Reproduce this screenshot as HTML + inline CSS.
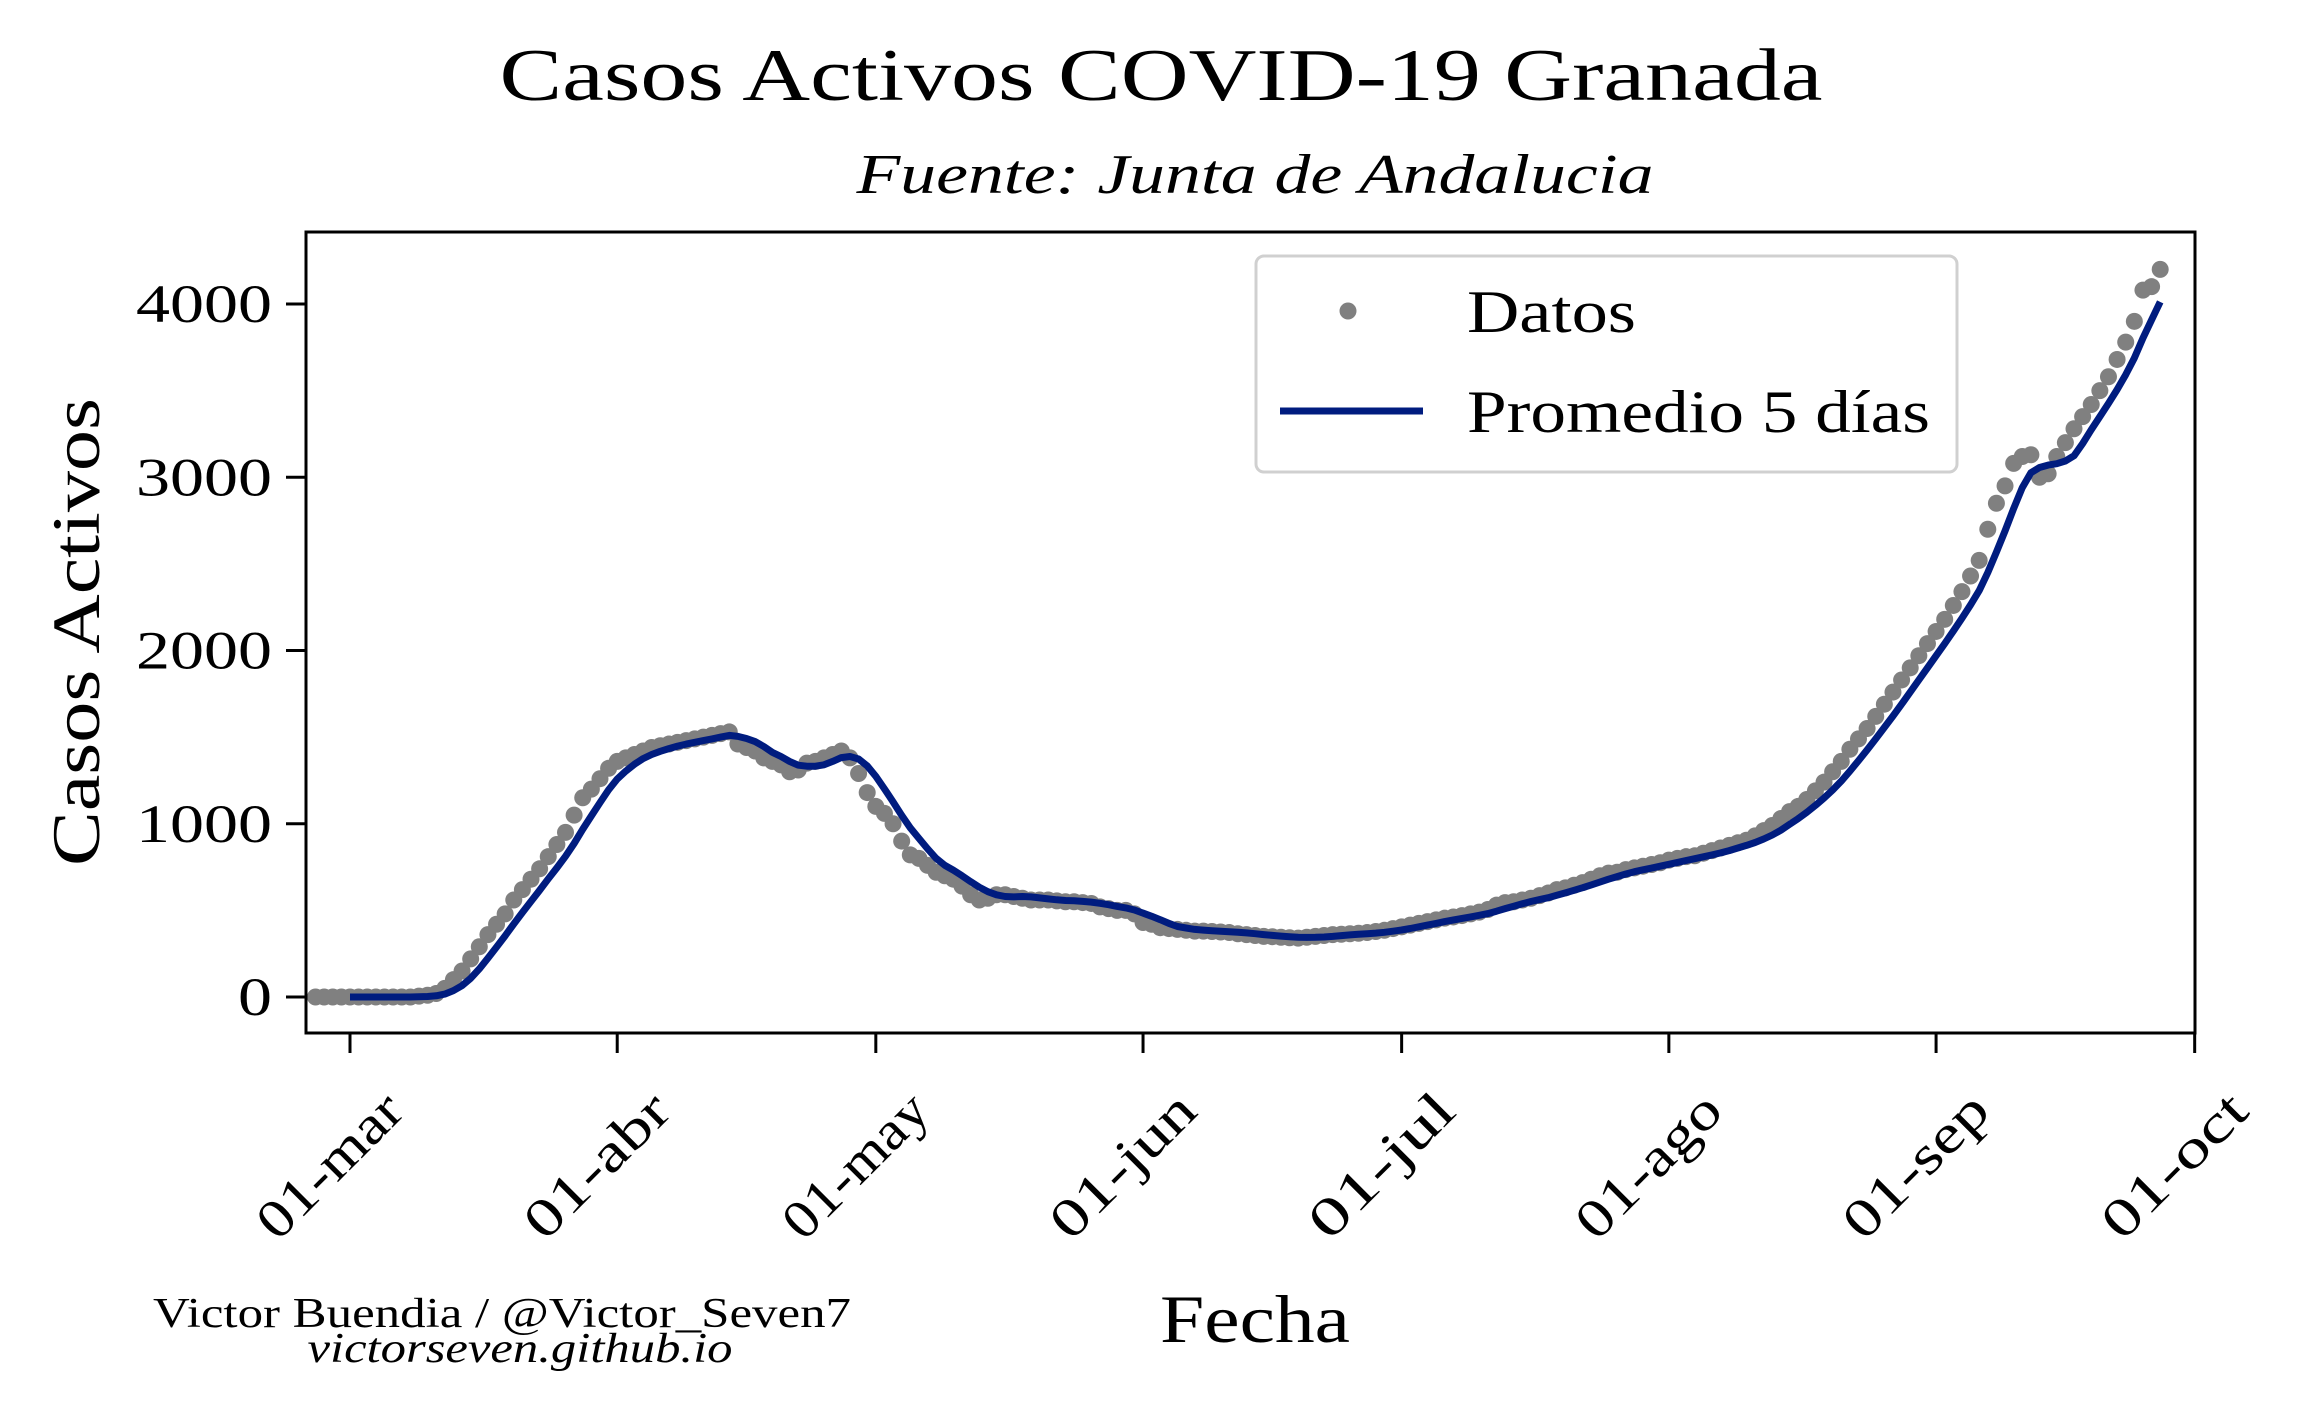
<!DOCTYPE html>
<html><head><meta charset="utf-8"><style>
html,body{margin:0;padding:0;background:#fff;}
svg{display:block;font-family:"Liberation Serif",serif;}
</style></head><body>
<svg id="chart" width="2317" height="1410" viewBox="0 0 2317 1410">
<rect width="2317" height="1410" fill="#fff"/>
<text x="1161" y="100" font-size="74" text-anchor="middle" textLength="1323" lengthAdjust="spacingAndGlyphs">Casos Activos COVID-19 Granada</text>
<text x="1255" y="193" font-size="56" font-style="italic" text-anchor="middle" textLength="797" lengthAdjust="spacingAndGlyphs">Fuente: Junta de Andalucia</text>
<g id="plot"></g>
<rect x="306" y="232" width="1889" height="801" fill="none" stroke="#000" stroke-width="3"/>
<text transform="translate(99,632) rotate(-90)" font-size="68" text-anchor="middle" textLength="468" lengthAdjust="spacingAndGlyphs">Casos Activos</text>
<text x="1255" y="1342" font-size="68" text-anchor="middle" textLength="190" lengthAdjust="spacingAndGlyphs">Fecha</text>
<text x="502" y="1327" font-size="42" text-anchor="middle" textLength="698" lengthAdjust="spacingAndGlyphs">Victor Buendia / @Victor_Seven7</text>
<text x="520" y="1362" font-size="42" font-style="italic" text-anchor="middle" textLength="425" lengthAdjust="spacingAndGlyphs">victorseven.github.io</text>
<g>
<rect x="1256" y="256" width="701" height="216" rx="8" fill="#fff" fill-opacity="0.85" stroke="#d0d0d0" stroke-width="3"/>
<circle cx="1348" cy="311" r="8.5" fill="#808080"/>
<text x="1467" y="332" font-size="60" textLength="169" lengthAdjust="spacingAndGlyphs">Datos</text>
<line x1="1280" y1="411" x2="1423" y2="411" stroke="#001c7f" stroke-width="7"/>
<text x="1467" y="432" font-size="60" textLength="463" lengthAdjust="spacingAndGlyphs">Promedio 5 días</text>
</g>
</svg>
<script>
const startDay = -4;
const casos = [0,0,0,0,0,0,0,0,0,0,0,0,5,10,
20,50,100,150,220,290,360,420,480,560,
620,680,740,810,880,950,1050,1150,1200,1260,
1320,1360,1380,1400,1420,1440,1450,1460,1470,1480,
1490,1500,1510,1520,1530,1460,1440,1420,1380,1360,
1340,1300,1310,1350,1360,1380,1400,1420,1380,1290,
1180,1100,1060,1000,900,820,800,760,720,700,
680,640,590,560,570,590,590,580,570,560,
560,560,555,550,550,545,540,520,510,500,
500,480,430,420,400,395,390,385,380,380,
378,375,372,365,360,355,350,348,345,342,
340,345,350,355,360,362,365,368,372,378,
385,395,405,415,425,435,445,455,462,470,
480,490,505,530,545,550,560,570,585,600,
620,630,645,660,680,700,715,720,735,745,
755,765,775,790,800,810,815,830,845,860,
875,890,905,930,960,990,1030,1070,1100,1140,
1190,1240,1300,1360,1430,1490,1550,1620,1690,1760,
1830,1900,1970,2040,2110,2180,2260,2340,2430,2520,
2700,2850,2950,3080,3120,3130,3000,3020,3120,3200,
3280,3350,3420,3500,3580,3680,3780,3900,4080,4100,4200];
const yTicks = [0,1000,2000,3000,4000];
const xTickLabels = ["01-mar","01-abr","01-may","01-jun","01-jul","01-ago","01-sep","01-oct"];
const xTickDays = [0,31,61,92,122,153,184,214];

const NS = "http://www.w3.org/2000/svg";
const svg = document.getElementById('chart');
const plot = document.getElementById('plot');
const X = d => 350 + d * 8.62;
const Y = v => 997 - v * 0.17325;
function mk(tag, attrs, parent){ const e=document.createElementNS(NS,tag); for(const k in attrs) e.setAttribute(k,attrs[k]); (parent||svg).appendChild(e); return e; }

yTicks.forEach(v=>{
  const t = mk('line',{x1:286,x2:306,y1:Y(v),y2:Y(v),stroke:'#000','stroke-width':3});
  
  
  const s = String(v);
  const l = mk('text',{x:272,y:Y(v)+18,'font-size':54,'text-anchor':'end',textLength:34*s.length,lengthAdjust:'spacingAndGlyphs'});
  l.textContent = s;
  
  
});
xTickDays.forEach((d,i)=>{
  const t = mk('line',{x1:X(d),x2:X(d),y1:1033,y2:1053,stroke:'#000','stroke-width':3});
  
  
  const l = mk('text',{transform:`translate(${X(d)-8},1178) rotate(-45)`,'font-size':54,'text-anchor':'middle',textLength:182,lengthAdjust:'spacingAndGlyphs'});
  l.textContent = xTickLabels[i];
  
  
});
casos.forEach((v,i)=>{
  const c = mk('circle',{cx:X(startDay+i),cy:Y(v),r:8.5,fill:'#808080'},plot);
  
  
});
let pts=[];
for(let i=4;i<casos.length;i++){
  const avg=(casos[i]+casos[i-1]+casos[i-2]+casos[i-3]+casos[i-4])/5;
  pts.push(X(startDay+i).toFixed(1)+','+Y(avg).toFixed(1));
}
const line = mk('polyline',{points:pts.join(' '),fill:'none',stroke:'#001c7f','stroke-width':7,'stroke-linejoin':'round'},plot);


</script>
</body></html>
